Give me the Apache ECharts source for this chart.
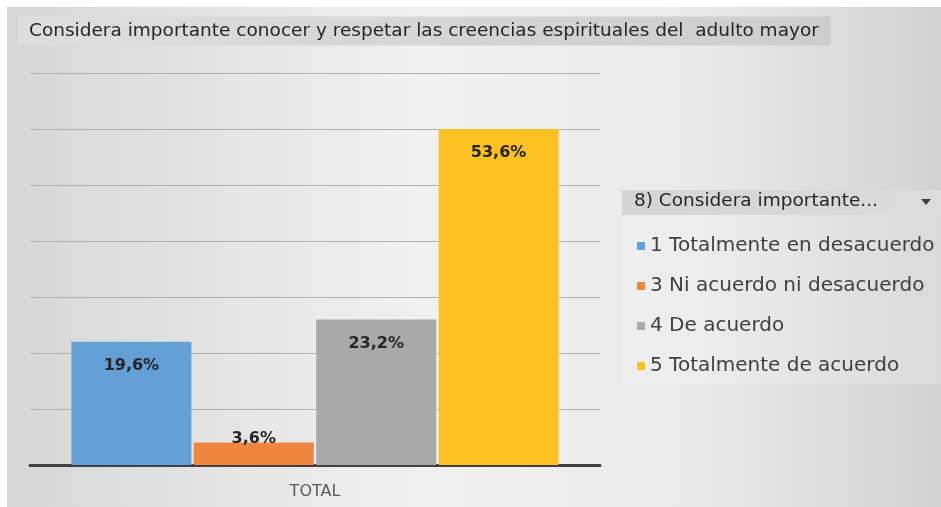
<!DOCTYPE html>
<html>
<head>
<meta charset="utf-8">
<script src="https://cdn.jsdelivr.net/npm/echarts@6/dist/echarts.min.js"></script>
<style>
  html, body { margin: 0; padding: 0; background: #ffffff; }
  #main { width: 941px; height: 507px; }
</style>
</head>
<body>
<div id="main"></div>
<script>
// datos (conteo de respuestas, total 56)
const categorias = ['TOTAL'];
const series_nombres = ['1 Totalmente en desacuerdo', '3 Ni acuerdo ni desacuerdo', '4 De acuerdo', '5 Totalmente de acuerdo'];
const conteos = [11, 2, 13, 30];
const etiquetas = ['19,6%', '3,6%', '23,2%', '53,6%'];
const colores = ['#649fd6', '#ee8640', '#a9a9a9', '#fbc123'];

const myChart = echarts.init(document.getElementById('main'));

const option = {
  backgroundColor: {
    type: 'linear', x: 0, y: 0, x2: 1, y2: 0,
    colorStops: [
      { offset: 0, color: '#d6d6d6' },
      { offset: 0.45, color: '#f1f1f1' },
      { offset: 0.75, color: '#e9e9e9' },
      { offset: 1, color: '#d2d2d2' }
    ]
  },
  animation: false,
  title: {
    text: 'Considera importante conocer y respetar las creencias espirituales del  adulto mayor',
    left: 18,
    top: 17,
    padding: [5, 12, 5, 11],
    backgroundColor: {
      type: 'linear', x: 0, y: 0, x2: 1, y2: 0,
      colorStops: [{ offset: 0, color: '#dedede' }, { offset: 1, color: '#cdcdcd' }]
    },
    textStyle: { fontFamily: 'DejaVu Sans', fontSize: 18.5, fontWeight: 'normal', color: '#262626', lineHeight: 18 }
  },
  graphic: [
    // marco blanco de la captura
    { type: 'rect', left: 0, top: 0, shape: { width: 941, height: 7 }, style: { fill: '#ffffff' } },
    { type: 'rect', left: 0, top: 0, shape: { width: 7, height: 507 }, style: { fill: '#ffffff' } },
    // caja de leyenda
    { type: 'rect', left: 622, top: 215, shape: { width: 319, height: 169 }, style: { fill: 'rgba(255,255,255,0.18)' } },
    { type: 'rect', left: 622, top: 190, shape: { width: 319, height: 25 },
      style: { fill: new echarts.graphic.LinearGradient(0, 0, 1, 0, [{ offset: 0, color: '#d4d4d4' }, { offset: 1, color: '#dcdcdc' }]) } },
    { type: 'text', left: 634, top: 192, style: { text: '8) Considera importante...', font: '18.5px "DejaVu Sans"', fill: '#262626' } },
    { type: 'polygon', shape: { points: [[921, 199], [931, 199], [926, 205]] }, style: { fill: '#404040' } }
  ],
  legend: {
    orient: 'vertical',
    left: 632,
    top: 230,
    icon: 'rect',
    itemWidth: 8,
    itemHeight: 8,
    itemGap: 18,
    data: series_nombres,
    textStyle: { fontFamily: 'DejaVu Sans', fontSize: 20, color: '#404040', lineHeight: 22 }
  },
  grid: { left: 30, right: 341, top: 73, bottom: 42 },
  xAxis: {
    type: 'category',
    data: categorias,
    axisLine: { lineStyle: { color: '#404040', width: 3 } },
    axisTick: { show: false },
    axisLabel: { margin: 19, fontFamily: 'DejaVu Sans', fontSize: 16, color: '#595959' }
  },
  yAxis: {
    type: 'value',
    min: 0,
    max: 35,
    interval: 5,
    axisLabel: { show: false },
    axisLine: { show: false },
    axisTick: { show: false },
    splitLine: { lineStyle: { color: '#b0b0b0', width: 1 } }
  },
  series: series_nombres.map((nombre, i) => ({
    name: nombre,
    type: 'bar',
    barWidth: 120,
    barGap: '2%',
    itemStyle: { color: colores[i] },
    label: {
      show: true,
      position: 'insideTop',
      distance: i === 1 ? -12 : 16,
      formatter: () => etiquetas[i],
      fontFamily: 'DejaVu Sans',
      fontWeight: 'bold',
      fontSize: 16,
      color: '#262626'
    },
    data: [conteos[i]]
  }))
};

option && myChart.setOption(option);
</script>
</body>
</html>
